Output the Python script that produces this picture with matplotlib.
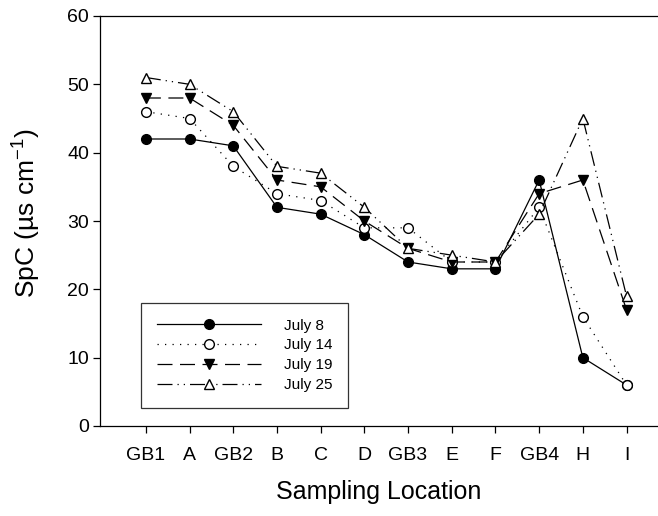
import matplotlib
matplotlib.use("Agg")
import matplotlib.pyplot as plt

plt.rcParams['font.family'] = ['Liberation Sans', 'DejaVu Sans']
plt.rcParams['mathtext.default'] = 'regular'

locations = ["GB1", "A", "GB2", "B", "C", "D", "GB3", "E", "F", "GB4", "H", "I"]
july8 = [42, 42, 41, 32, 31, 28, 24, 23, 23, 36, 10, 6]
july14 = [46, 45, 38, 34, 33, 29, 29, 24, 24, 32, 16, 6]
july19 = [48, 48, 44, 36, 35, 30, 26, 24, 24, 34, 36, 17]
july25 = [51, 50, 46, 38, 37, 32, 26, 25, 24, 31, 45, 19]

x = list(range(len(locations)))

fig = plt.figure(figsize=(6.58, 5.16), dpi=100)
ax = fig.add_axes([100/658, 90/516, 1 - 100/658, 410/516])

lw = 0.9
ms = 7
ax.plot(x, july8, color='black', lw=lw, ls='-', marker='o', ms=ms,
        mfc='black', mec='black', label='July 8')
ax.plot(x, july14, color='black', lw=lw, ls=(0, (1, 5)), marker='o', ms=ms,
        mfc='white', mec='black', label='July 14')
ax.plot(x, july19, color='black', lw=lw, ls=(0, (12, 6)), marker='v', ms=ms,
        mfc='black', mec='black', label='July 19')
ax.plot(x, july25, color='black', lw=lw, ls=(0, (12, 4, 1, 4, 1, 4)), marker='^', ms=ms,
        mfc='white', mec='black', label='July 25')

ax.set_xlim(-1.05, 11.72)
ax.set_ylim(0, 60)
ax.set_xticks(x)
ax.set_xticklabels(locations)
ax.set_yticks(range(0, 61, 10))
ax.tick_params(axis='both', direction='out', length=5, width=0.9, labelsize=14)
ax.tick_params(axis='x', pad=10)
ax.tick_params(axis='y', pad=3)
for s in ['left', 'bottom', 'top']:
    ax.spines[s].set_linewidth(0.9)
ax.spines['right'].set_visible(False)

ax.set_xlabel("Sampling Location", fontsize=18, labelpad=12)
ax.set_ylabel("SpC (µs cm$^{-1}$)", fontsize=19)
ax.yaxis.set_label_coords(-0.102, 0.518)

leg = ax.legend(loc='lower left', bbox_to_anchor=(41/558, 18/410), fontsize=11,
                handlelength=6.8, handletextpad=1.5, labelspacing=0.38,
                borderpad=1.05, borderaxespad=0, frameon=True, fancybox=False)
leg.get_frame().set_edgecolor('black')
leg.get_frame().set_linewidth(0.9)

plt.savefig("out.png", dpi=100)
